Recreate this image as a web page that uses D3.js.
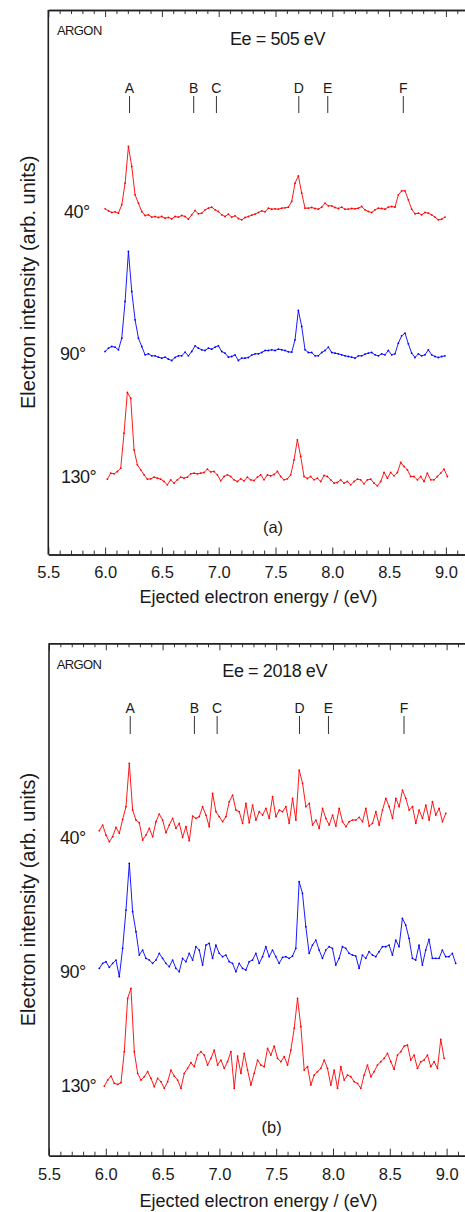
<!DOCTYPE html>
<html><head><meta charset="utf-8">
<script src="https://cdn.jsdelivr.net/npm/d3@7"></script>
<style>
body{margin:0;background:#fff}
svg{display:block}
text{font-family:"Liberation Sans",Arial,Helvetica,sans-serif;fill:#1a1a1a}
</style>
</head><body>
<script>
// ---------- DATA ----------
const tickValuesMajor = [5.5, 6.0, 6.5, 7.0, 7.5, 8.0, 8.5, 9.0];
const tickLabels = ["5.5", "6.0", "6.5", "7.0", "7.5", "8.0", "8.5", "9.0"];
const lineLabels = ["A", "B", "C", "D", "E", "F"];
const lineEnergies = [6.215, 6.78, 6.98, 7.705, 7.96, 8.625];
const angleLabels = ["40°", "90°", "130°"];
const panelTitles = ["Ee = 505 eV", "Ee = 2018 eV"];
const panelTags = ["(a)", "(b)"];
const gasLabel = "ARGON";
const xTitle = "Ejected electron energy / (eV)";
const yTitle = "Electron intensity (arb. units)";

// energy ranges [start, end] of each recorded trace
const rangeA = [[6.0, 8.992], [6.0, 8.992], [6.02, 9.013]];
const rangeB = [[5.943, 8.993], [5.943, 9.08], [5.987, 8.978]];
// vertical offsets of the stacked traces (arb. units)
const offsetsA = [1004, 574, 194];
const offsetsB = [937, 527, 192];

// Ee = 505 eV
const a40 = [33,27,22,24,20,45,110,220,160,75,
  50,25,13,15,8,10,7,10,5,7,
  3,10,8,13,10,2,15,28,18,20,
  30,35,38,30,25,15,10,17,8,12,
  4,0,7,10,14,17,22,27,24,35,
  32,33,32,35,36,38,55,110,132,80,
  35,35,37,34,32,38,50,42,42,37,
  34,38,32,32,34,33,35,40,30,25,
  22,30,35,34,32,38,40,38,75,87,
  87,60,32,18,20,15,22,20,15,8,
  0,2,8];
const a90 = [35,45,50,48,40,75,185,335,215,130,
  75,50,25,28,22,22,18,15,18,12,
  8,17,22,22,33,22,35,52,45,40,
  38,45,42,48,52,35,30,18,20,25,
  8,15,15,17,24,28,28,32,38,38,
  40,38,42,40,38,34,33,70,158,110,
  40,32,32,22,22,32,38,48,32,30,
  28,25,22,20,18,15,22,22,27,30,
  32,25,22,28,25,38,25,28,60,82,
  90,58,30,17,28,22,25,40,25,20,
  17,20,22];
const a130 = [32,50,48,55,65,170,292,275,120,75,
  60,45,32,33,38,35,32,25,15,30,
  20,30,38,35,38,48,50,48,50,52,
  62,54,55,45,27,40,45,40,30,25,
  33,27,38,30,28,38,45,30,45,42,
  46,55,40,30,33,45,90,150,100,40,
  34,40,30,35,25,43,40,30,20,22,
  30,20,25,15,25,32,30,18,30,32,
  20,12,25,52,35,52,42,52,82,70,
  60,40,40,30,40,25,50,30,30,40,
  50,62,40];

// Ee = 2018 eV
const b40 = [38,55,25,5,20,48,30,72,110,240,
  100,70,62,10,25,45,20,65,88,70,
  32,55,75,45,60,18,50,8,82,75,
  80,110,85,50,150,95,80,65,80,125,
  145,100,95,60,120,62,115,70,95,85,
  105,75,140,80,100,95,110,60,135,70,
  220,180,110,120,55,70,45,105,75,55,
  85,52,105,65,50,65,70,70,78,65,
  105,52,60,95,55,100,135,110,75,135,
  110,160,135,100,110,60,100,75,115,70,
  125,85,105,65,90];
const b90 = [35,50,55,38,50,60,10,95,210,350,
  205,145,75,90,65,60,50,60,80,65,
  50,40,60,35,25,65,55,80,60,100,
  90,45,105,110,65,105,80,70,75,55,
  50,25,50,35,30,55,60,80,50,70,
  100,70,90,70,50,68,70,65,72,95,
  295,260,160,80,105,120,90,65,90,100,
  95,45,65,100,95,80,75,72,35,75,
  65,85,75,70,85,100,100,105,75,120,
  100,185,165,125,65,60,105,45,90,122,
  65,65,65,90,70,70,80,50];
const b130 = [17,35,47,25,22,27,120,280,310,120,
  55,35,45,60,40,15,40,30,10,30,
  65,47,35,10,55,70,87,75,110,120,
  110,80,100,125,80,95,70,90,120,10,
  107,55,115,65,20,55,95,80,75,130,
  110,137,100,90,105,80,125,190,280,195,
  65,75,20,50,60,70,95,70,20,65,
  10,75,35,50,45,30,25,10,50,80,
  45,60,80,90,100,115,90,67,110,120,
  137,140,95,110,70,90,95,110,75,90,
  70,157,100];

// ---------- LAYOUT / STYLE ----------
const W = 465, H = 1212;
const colors = ["#ff0000", "#0000ff", "#ff0000"];
const panels = [
  {left: 48.3, top: 10, bottom: 554.5, series: [a40, a90, a130], ranges: rangeA, offsets: offsetsA,
   title: panelTitles[0], tag: panelTags[0], titleX: 277.5, titleY: 45, gasY: 35, gasX: 57,
   lettersY: 93, markTop: 96, markBot: 113, tagX: 273, tagY: 533, labelXs: [64, 60, 61], labelDy: [-2, -3, -7],
   tickPad: 12, xTitleY: 603},
  {left: 49, top: 643.3, bottom: 1155.7, series: [b40, b90, b130], ranges: rangeB, offsets: offsetsB,
   title: panelTitles[1], tag: panelTags[1], titleX: 274.7, titleY: 676.7, gasY: 669.3, gasX: 56.7,
   lettersY: 713, markTop: 716, markBot: 734, tagX: 271.7, tagY: 1132.7, labelXs: [60, 60, 61], labelDy: [1, -2, 0],
   tickPad: 13, xTitleY: 1207}
];

const svg = d3.select("body").append("svg").attr("width", W).attr("height", H)
  .style("background", "#fff");

panels.forEach(p => {
  const pxPerEv = 113.6;
  const x = d3.scaleLinear().domain([5.5, 9.2]).range([p.left, p.left + 3.7 * pxPerEv]);
  const y = d3.scaleLinear().domain([0, (p.bottom - p.top) * 3]).range([p.bottom, p.top]);
  const g = svg.append("g");

  const minor = d3.range(56, 93).map(d => d / 10).filter(v => Math.abs(v * 2 - Math.round(v * 2)) > 1e-6);

  // bottom axis
  const bMinor = d3.axisBottom(x).tickValues(minor).tickSize(-4).tickSizeOuter(0).tickFormat("");
  const bMajor = d3.axisBottom(x).tickValues(tickValuesMajor).tickSize(-7).tickSizeOuter(0)
    .tickPadding(p.tickPad).tickFormat((d, i) => tickLabels[i]);
  const gbm = g.append("g").attr("transform", `translate(0,${p.bottom})`).call(bMinor);
  const gb = g.append("g").attr("transform", `translate(0,${p.bottom})`).call(bMajor);
  gb.selectAll("text").style("font-size", "16.5px").attr("fill", "#1a1a1a")
    .style("font-family", '"Liberation Sans",Arial,sans-serif');
  // top axis
  const tMinor = d3.axisTop(x).tickValues(minor).tickSize(-4).tickSizeOuter(0).tickFormat("");
  const tMajor = d3.axisTop(x).tickValues(tickValuesMajor).tickSize(-7).tickSizeOuter(0).tickFormat("");
  const gtm = g.append("g").attr("transform", `translate(0,${p.top})`).call(tMinor);
  const gt = g.append("g").attr("transform", `translate(0,${p.top})`).call(tMajor);
  [gbm, gb, gtm, gt].forEach(a => {
    a.selectAll("path.domain").attr("stroke", "#222").attr("stroke-width", 1.4);
    a.selectAll(".tick line").attr("stroke", "#333").attr("stroke-width", 1);
  });
  // left frame
  g.append("line").attr("x1", p.left).attr("x2", p.left).attr("y1", p.top).attr("y2", p.bottom)
    .attr("stroke", "#222").attr("stroke-width", 1.6);

  // texts
  g.append("text").attr("x", p.gasX).attr("y", p.gasY).text(gasLabel)
    .style("font-size", "13px").style("letter-spacing", "-0.6px");
  g.append("text").attr("x", p.titleX).attr("y", p.titleY).attr("text-anchor", "middle")
    .text(p.title).style("font-size", "18px").style("letter-spacing", "-0.4px");
  g.append("text").attr("x", p.tagX).attr("y", p.tagY).attr("text-anchor", "middle")
    .text(p.tag).style("font-size", "16.5px");
  g.append("text").attr("x", 258.5).attr("y", p.xTitleY).attr("text-anchor", "middle")
    .text(xTitle).style("font-size", "18px");
  const cy = (p.top + p.bottom) / 2;
  g.append("text").attr("transform", `translate(35,${cy}) rotate(-90)`).attr("text-anchor", "middle")
    .text(yTitle).style("font-size", "20px");

  // line markers
  lineEnergies.forEach((e, i) => {
    g.append("line").attr("x1", x(e)).attr("x2", x(e)).attr("y1", p.markTop).attr("y2", p.markBot)
      .attr("stroke", "#333").attr("stroke-width", 1);
    g.append("text").attr("x", x(e)).attr("y", p.lettersY).attr("text-anchor", "middle")
      .text(lineLabels[i]).style("font-size", "14px");
  });

  // traces
  p.series.forEach((vals, si) => {
    const [e0, e1] = p.ranges[si];
    const n = vals.length;
    const pts = vals.map((v, i) => ({e: e0 + (e1 - e0) * i / (n - 1), v: v + p.offsets[si]}));
    const line = d3.line().x(d => x(d.e)).y(d => y(d.v));
    g.append("path").datum(pts).attr("d", line).attr("fill", "none")
      .attr("stroke", colors[si]).attr("stroke-width", 0.9).attr("stroke-linejoin", "round");
    g.append("g").selectAll("circle").data(pts).join("circle")
      .attr("cx", d => x(d.e)).attr("cy", d => y(d.v)).attr("r", 0.9).attr("fill", colors[si]);
    g.append("text").attr("x", p.labelXs[si]).attr("y", y(p.offsets[si]) + p.labelDy[si])
      .text(angleLabels[si]).style("font-size", "18px").style("letter-spacing", "-0.5px");
  });
});
</script>
</body></html>
